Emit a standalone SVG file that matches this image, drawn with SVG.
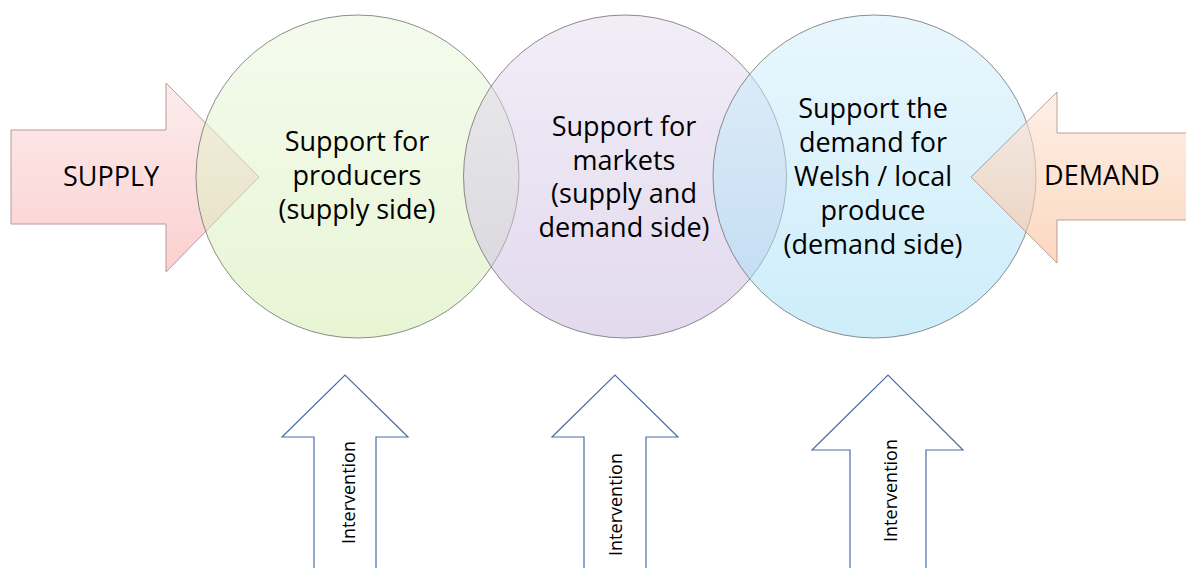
<svg xmlns="http://www.w3.org/2000/svg" width="1186" height="568" viewBox="0 0 1186 568">
  <defs>
    <linearGradient id="gPink" x1="0" y1="0" x2="0" y2="1">
      <stop offset="0" stop-color="#fdecec"/>
      <stop offset="1" stop-color="#fbd0d0"/>
    </linearGradient>
    <linearGradient id="gPeach" x1="0" y1="0" x2="0" y2="1">
      <stop offset="0" stop-color="#fde6d8"/>
      <stop offset="1" stop-color="#fac09a"/>
    </linearGradient>
    <linearGradient id="gGreen" x1="0" y1="0" x2="0" y2="1">
      <stop offset="0" stop-color="#e9f7dc"/>
      <stop offset="1" stop-color="#d0ebaa"/>
    </linearGradient>
    <linearGradient id="gPurple" x1="0" y1="0" x2="0" y2="1">
      <stop offset="0" stop-color="#e4dcef"/>
      <stop offset="1" stop-color="#c6b4de"/>
    </linearGradient>
    <linearGradient id="gBlue" x1="0" y1="0" x2="0" y2="1">
      <stop offset="0" stop-color="#d2eefb"/>
      <stop offset="1" stop-color="#9cdcf6"/>
    </linearGradient>
  </defs>
  <style>
    .lbl { font-family: "Open Sans", "Liberation Sans", sans-serif; font-size: 27px; fill: #000; text-anchor: middle; }
    .vlbl { font-family: "Open Sans", "Liberation Sans", sans-serif; font-size: 18px; fill: #000; text-anchor: middle; }
    .circle { fill-opacity: 0.5; stroke: #707070; stroke-opacity: 0.8; stroke-width: 1; }
    .side { stroke-width: 1; }
    .up { fill: #ffffff; stroke: #4a6ea6; stroke-width: 1.2; }
  </style>

  <!-- supply arrow sits under the circles -->
  <g id="supply">
    <polygon class="side" points="11,130 166,130 166,83 259,177 166,272 166,224 11,224" fill="url(#gPink)" stroke="#b89a9a"/>
    <text class="lbl" x="111" y="186">SUPPLY</text>
  </g>

  <!-- overlapping translucent circles -->
  <g id="producers">
    <circle class="circle" cx="357.5" cy="176.5" r="161.5" fill="url(#gGreen)"/>
  </g>
  <g id="markets">
    <circle class="circle" cx="625" cy="176.5" r="161.5" fill="url(#gPurple)"/>
  </g>
  <g id="demand-side">
    <circle class="circle" cx="874.5" cy="176.5" r="161.5" fill="url(#gBlue)"/>
  </g>

  <!-- demand arrow lies over the blue circle, half see-through -->
  <g id="demand">
    <polygon class="side" points="1190,133 1057,133 1057,92 971,177 1057,263 1057,220 1190,220" fill="url(#gPeach)" fill-opacity="0.62" stroke="#a89080" stroke-opacity="0.8"/>
    <text class="lbl" x="1102" y="185">DEMAND</text>
  </g>

  <!-- circle labels -->
  <g id="producers-label">
    <text class="lbl" x="357" y="151">Support for</text>
    <text class="lbl" x="357" y="185">producers</text>
    <text class="lbl" x="357" y="219">(supply side)</text>
  </g>
  <g id="markets-label">
    <text class="lbl" x="624" y="136">Support for</text>
    <text class="lbl" x="624" y="169.5">markets</text>
    <text class="lbl" x="624" y="203">(supply and</text>
    <text class="lbl" x="624" y="237">demand side)</text>
  </g>
  <g id="demand-side-label">
    <text class="lbl" x="873" y="118">Support the</text>
    <text class="lbl" x="873" y="152">demand for</text>
    <text class="lbl" x="873" y="186">Welsh / local</text>
    <text class="lbl" x="873" y="220">produce</text>
    <text class="lbl" x="873" y="254">(demand side)</text>
  </g>

  <!-- intervention arrows -->
  <g id="connectors">
    <g id="intervention-1">
      <polygon class="up" points="314,572 314,437 282,437 345,375 408,437 376,437 376,572"/>
      <text class="vlbl" transform="translate(355,492.5) rotate(-90)">Intervention</text>
    </g>
    <g id="intervention-2">
      <polygon class="up" points="584,572 584,437 552,437 615,375 678,437 646,437 646,572"/>
      <text class="vlbl" transform="translate(621.5,504.5) rotate(-90)">Intervention</text>
    </g>
    <g id="intervention-3">
      <polygon class="up" points="850,572 850,450 812,450 888,375 963,450 926,450 926,572"/>
      <text class="vlbl" transform="translate(896.5,490.5) rotate(-90)">Intervention</text>
    </g>
  </g>
</svg>
